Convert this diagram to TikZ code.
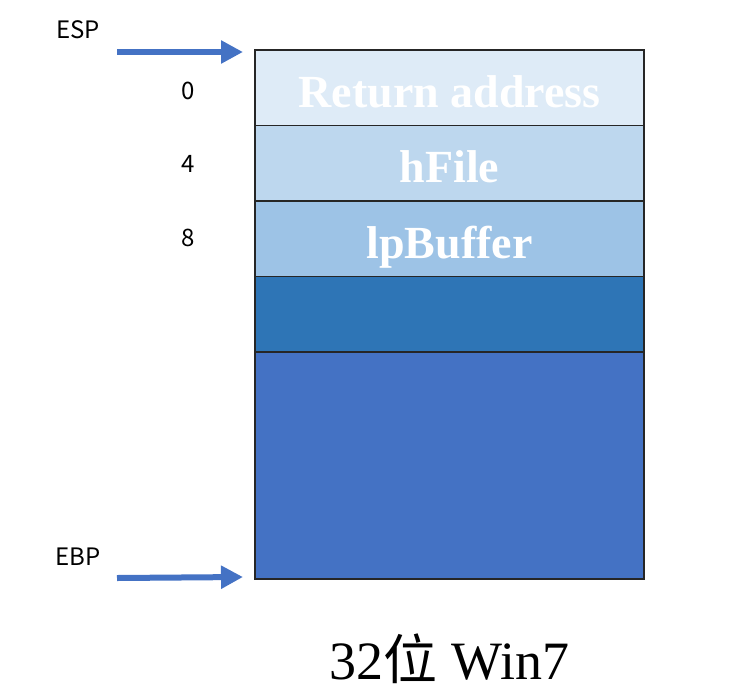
\documentclass[tikz,border=0pt]{standalone}
\usepackage{fontspec}
\setmainfont{Liberation Serif}
\newfontfamily\cjk{Noto Sans CJK SC}
\usetikzlibrary{positioning,arrows.meta,calc}
\definecolor{slotA}{RGB}{222,235,247}
\definecolor{slotB}{RGB}{189,215,238}
\definecolor{slotC}{RGB}{157,195,230}
\definecolor{slotD}{RGB}{46,117,182}
\definecolor{slotE}{RGB}{68,114,196}
\definecolor{ptr}{RGB}{68,114,196}
\definecolor{edge}{RGB}{38,38,38}

\begin{document}
\begin{tikzpicture}[
    x=1pt, y=-1pt,
    slot/.style={draw=edge, line width=1.3pt, minimum width=389pt, minimum height=75.5pt, inner sep=0pt, outer sep=0pt, text height=39pt, text depth=0pt, text=white, font=\bfseries\fontsize{46}{50}\selectfont},
    offset/.style={font=\cjk\fontsize{24}{28}\selectfont},
    reg/.style={font=\cjk\fontsize{24}{28}\selectfont},
    arrow/.style={-{Triangle[length=22pt, width=22pt]}, line width=6pt, draw=ptr},
    node distance=0pt
]
    \useasboundingbox (0,0) rectangle (743,699);

    % Stack slots
    \node[slot, fill=slotA, anchor=north west] (ret) at (255,50) {Return address};
    \node[slot, fill=slotB, below=of ret] (hfile) {hFile};
    \node[slot, fill=slotC, below=of hfile] (lpbuf) {lpBuffer};
    \node[slot, fill=slotD, below=of lpbuf] (blank) {};
    \node[slot, fill=slotE, below=of blank, minimum height=227pt] (frame) {};

    % Offsets
    \node[offset] (off0) at ($(ret.west)+(-67,3)$) {0};
    \node[offset] (off4) at ($(hfile.west)+(-67,1)$) {4};
    \node[offset] (off8) at ($(lpbuf.west)+(-67,-1)$) {8};

    % Registers
    \node[reg] (esp) at (78,30) {ESP};
    \node[reg] (ebp) at (78,557) {EBP};
    \coordinate (espfrom) at (117,52);
    \coordinate (ebpfrom) at (117,578);
    \coordinate (espto) at ($(ret.north west)+(-12,2)$);
    \coordinate (ebpto) at ($(frame.south west)+(-12,-2)$);
    \draw[arrow] (espfrom) -- (espto);
    \draw[arrow] (ebpfrom) -- (ebpto);

    % Caption
    \node[font=\fontsize{54}{58}\selectfont] (caption) at ($(frame.south)+(0,80)$) {32{\cjk 位} Win7};
\end{tikzpicture}
\end{document}
